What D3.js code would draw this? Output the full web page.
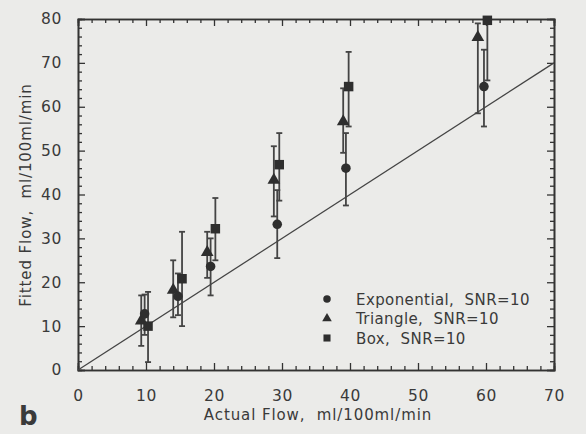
<!DOCTYPE html>
<html><head><meta charset="utf-8">
<script src="https://cdn.jsdelivr.net/npm/d3@7"></script>
<style>
html,body{margin:0;padding:0;background:#ebebe9;}
svg{display:block;}
text{font-family:"DejaVu Sans",sans-serif;fill:#3a3a3a;}
</style></head><body>
<svg id="c" width="586" height="434"></svg>
<script>
// Data
const xTicks = [0,10,20,30,40,50,60,70];
const yTicks = [0,10,20,30,40,50,60,70,80];
const expX  = [9.8, 14.7, 19.5, 29.3, 39.4, 59.7];
const expY  = [12.8, 16.8, 23.6, 33.2, 46.0, 64.6];
const expLo = [8.0, 12.5, 17.0, 25.5, 37.5, 55.5];
const expHi = [17.2, 22.0, 30.0, 41.0, 54.0, 73.0];
const triX  = [9.3, 14.0, 19.0, 28.8, 39.0, 58.8];
const triY  = [11.2, 18.2, 26.8, 43.3, 56.6, 75.8];
const triLo = [5.5, 12.0, 21.0, 35.0, 49.5, 58.5];
const triHi = [17.0, 25.0, 31.5, 51.0, 64.2, 79.0];
const boxX  = [10.3, 15.3, 20.2, 29.6, 39.8, 60.2];
const boxY  = [10.0, 20.8, 32.2, 46.8, 64.6, 79.7];
const boxLo = [1.8, 10.0, 25.0, 38.6, 55.5, 66.0];
const boxHi = [17.8, 31.5, 39.2, 54.0, 72.5, 80.0];
const seriesNames = ["Exponential,  SNR=10","Triangle,  SNR=10","Box,  SNR=10"];

const svg = d3.select("#c");
const x = d3.scaleLinear().domain([0,70]).range([78,554]);
const y = d3.scaleLinear().domain([0,80]).range([370,19]);
const ink = "#333";

function minorVals(max){ return d3.range(0,max+0.001,2).filter(v=>v%10!==0); }
const gAx = svg.append("g");
gAx.append("g").attr("transform",`translate(0,${y(0)})`)
  .call(d3.axisBottom(x).tickValues(xTicks).tickSize(-7).tickPadding(20).tickFormat(d3.format("d")));
gAx.append("g").attr("transform",`translate(0,${y(0)})`)
  .call(d3.axisBottom(x).tickValues(minorVals(70)).tickSize(-4).tickFormat(""));
gAx.append("g").attr("transform",`translate(0,${y(80)})`)
  .call(d3.axisTop(x).tickValues(xTicks).tickSize(-7).tickFormat(""));
gAx.append("g").attr("transform",`translate(0,${y(80)})`)
  .call(d3.axisTop(x).tickValues(minorVals(70)).tickSize(-4).tickFormat(""));
gAx.append("g").attr("transform",`translate(${x(0)},0)`)
  .call(d3.axisLeft(y).tickValues(yTicks).tickSize(-7).tickPadding(16).tickFormat(d3.format("d")));
gAx.append("g").attr("transform",`translate(${x(0)},0)`)
  .call(d3.axisLeft(y).tickValues(minorVals(80)).tickSize(-4).tickFormat(""));
gAx.append("g").attr("transform",`translate(${x(70)},0)`)
  .call(d3.axisRight(y).tickValues(yTicks).tickSize(-7).tickFormat(""));
gAx.append("g").attr("transform",`translate(${x(70)},0)`)
  .call(d3.axisRight(y).tickValues(minorVals(80)).tickSize(-4).tickFormat(""));
gAx.selectAll("path.domain").attr("stroke",ink).attr("stroke-width",1.6);
gAx.selectAll(".tick line").attr("stroke",ink).attr("stroke-width",1.3);
gAx.selectAll(".tick text").attr("font-size",15.5).attr("fill","#3a3a3a")
  .style("font-family","DejaVu Sans").style("letter-spacing","0.6px");

svg.append("line").attr("x1",x(0)).attr("y1",y(0)).attr("x2",x(70)).attr("y2",y(70))
  .attr("stroke","#444").attr("stroke-width",1.3);

function errBars(xs,lo,hi){
  const g = svg.append("g").attr("stroke","#444").attr("stroke-width",1.8);
  xs.forEach((xv,i)=>{
    g.append("line").attr("x1",x(xv)).attr("x2",x(xv)).attr("y1",y(lo[i])).attr("y2",y(hi[i]));
    g.append("line").attr("x1",x(xv)-3).attr("x2",x(xv)+3).attr("y1",y(lo[i])).attr("y2",y(lo[i]));
    g.append("line").attr("x1",x(xv)-3).attr("x2",x(xv)+3).attr("y1",y(hi[i])).attr("y2",y(hi[i]));
  });
}
errBars(triX,triLo,triHi);
errBars(expX,expLo,expHi);
errBars(boxX,boxLo,boxHi);

const sym = [d3.symbolCircle, d3.symbolTriangle, d3.symbolSquare];
const sizes = [72, 70, 90];
function markers(xs,ys,k){
  svg.append("g").selectAll("path").data(xs).join("path")
    .attr("d",d3.symbol().type(sym[k]).size(sizes[k]))
    .attr("transform",(d,i)=>`translate(${x(d)},${y(ys[i])})`)
    .attr("fill","#2e2e2e");
}
markers(triX,triY,1);
markers(expX,expY,0);
markers(boxX,boxY,2);

const lg = svg.append("g");
seriesNames.forEach((n,i)=>{
  const cy = 299 + i*19.5;
  lg.append("path").attr("d",d3.symbol().type(sym[i]).size([44,40,50][i])())
    .attr("transform",`translate(327,${cy})`).attr("fill","#2e2e2e");
  lg.append("text").attr("x",356).attr("y",cy+5.5).attr("font-size",15)
    .style("letter-spacing","0.4px").attr("xml:space","preserve").text(n);
});

svg.append("text").attr("x",318).attr("y",420).attr("text-anchor","middle")
  .attr("font-size",15).style("letter-spacing","0.9px").attr("xml:space","preserve").text("Actual Flow,  ml/100ml/min");
svg.append("text").attr("transform","translate(31,195) rotate(-90)").attr("text-anchor","middle")
  .attr("font-size",15).style("letter-spacing","0.9px").attr("xml:space","preserve").text("Fitted Flow,  ml/100ml/min");
svg.append("text").attr("x",19).attr("y",425).attr("font-size",26).attr("font-weight","bold")
  .attr("fill","#333").text("b");
</script>
</body></html>
